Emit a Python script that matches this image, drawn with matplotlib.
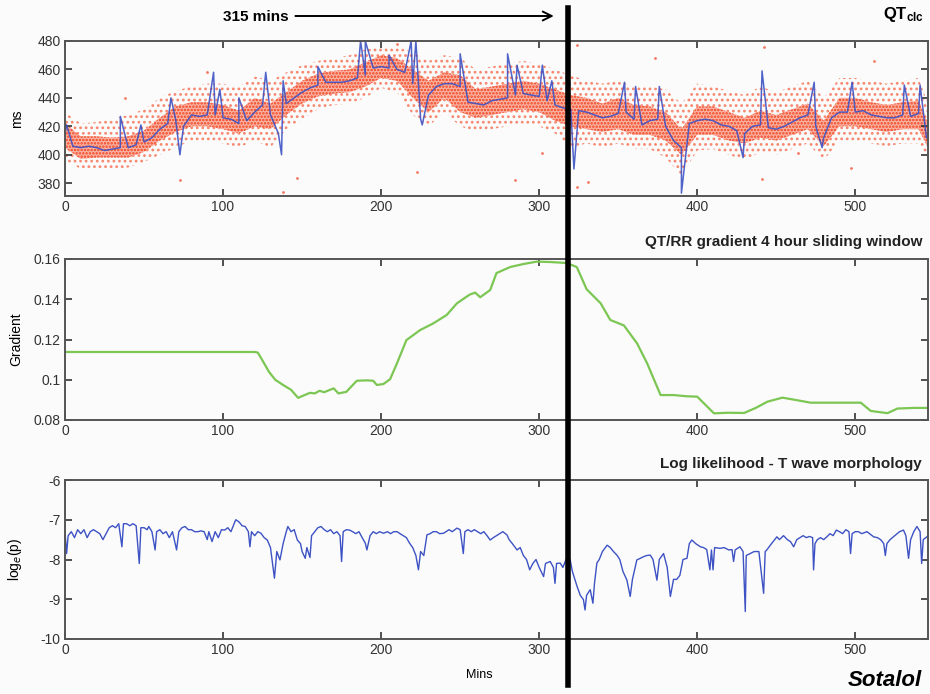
import numpy as np
import matplotlib
matplotlib.use("Agg")
import matplotlib.pyplot as plt
from matplotlib.lines import Line2D
from matplotlib.transforms import blended_transform_factory

plt.rcParams['font.family'] = ['Liberation Sans', 'DejaVu Sans']
plt.rcParams['mathtext.fontset'] = 'custom'
plt.rcParams['mathtext.rm'] = 'Liberation Sans'
plt.rcParams['mathtext.bf'] = 'Liberation Sans:bold'
plt.rcParams['axes.unicode_minus'] = False
plt.rcParams['hatch.linewidth'] = 1.2

# --- QTclc: blue trace (base every 5 min) ---
qt_t = list(range(0, 550, 5))
qt_mid = [415, 406, 405, 406, 405, 403, 404, 405, 405, 407, 409, 412, 418, 422, 425, 420,
          428, 427, 428, 428, 426, 425, 422, 424, 430, 435, 428, 415, 436, 440, 444, 447,
          449, 451, 451, 451, 452, 454, 456, 461, 462, 461, 460, 458, 450, 425, 442, 448,
          450, 450, 448, 437, 436, 435, 438, 439, 440, 442, 443, 442, 441, 438, 435, 433,
          432, 431, 430, 428, 426, 427, 429, 430, 425, 421, 424, 425, 420, 410, 405, 422,
          424, 425, 424, 421, 420, 417, 415, 420, 421, 419, 418, 420, 423, 426, 428, 420,
          412, 426, 430, 430, 430, 431, 428, 427, 426, 426, 428, 427, 429, 412]
# spikes of the blue trace
spike_t = [1, 35, 48, 67, 72.7, 94, 98, 110, 127, 137, 138, 160, 187, 190, 205, 219, 222,
           226, 250, 280, 286, 302, 308, 322, 354, 361, 376, 390, 429, 441, 474, 479, 498,
           531, 541]
spike_v = [421, 427, 421, 440, 400, 458, 446, 440, 458, 400, 452, 462, 480, 480, 470, 480, 480,
           421, 471, 471, 463, 463, 452, 390, 451, 448, 448, 373, 398, 459, 451, 405, 451,
           449, 449]

# --- QTclc: red beat-by-beat cloud (every 10 min) ---
red_t = list(range(0, 550, 10)) + [546]
in_lo = [405, 397, 398, 398, 398, 402, 410, 416, 420, 420, 418, 415, 420, 418, 428, 436, 441,
         443, 444, 448, 454, 452, 440, 430, 440, 430, 426, 428, 430, 432, 430, 424, 420, 418,
         416, 418, 414, 414, 410, 400, 414, 414, 410, 408, 412, 410, 414, 418, 406, 420, 420,
         418, 416, 418, 418, 405]
in_hi = [422, 413, 413, 412, 413, 417, 426, 434, 437, 437, 435, 431, 440, 436, 444, 452, 457,
         459, 460, 465, 470, 468, 460, 452, 458, 456, 446, 448, 450, 452, 450, 446, 442, 440,
         436, 440, 435, 434, 430, 418, 434, 434, 430, 426, 431, 428, 432, 436, 424, 440, 440,
         437, 435, 437, 438, 422]
out_lo = [396, 390, 390, 390, 391, 395, 400, 405, 410, 410, 408, 405, 410, 405, 418, 425, 432,
          435, 436, 440, 447, 444, 428, 420, 430, 420, 416, 418, 420, 422, 420, 415, 405, 408,
          405, 408, 404, 404, 398, 385, 403, 404, 400, 396, 402, 400, 404, 408, 396, 410, 410,
          408, 406, 408, 408, 398]
out_hi = [430, 422, 423, 425, 428, 432, 440, 445, 448, 450, 450, 448, 455, 452, 458, 463, 466,
          468, 470, 474, 476, 476, 472, 466, 470, 468, 460, 462, 464, 466, 464, 460, 456, 452,
          450, 452, 448, 448, 446, 436, 450, 448, 445, 442, 448, 444, 448, 452, 440, 454, 454,
          452, 450, 452, 454, 436]
out_t = [73, 138, 147, 223, 285, 302, 324, 331, 441, 464, 497, 442, 373, 512, 324, 210, 38, 90]
out_v = [382, 374, 384, 388, 382, 401, 377, 381, 383, 401, 391, 476, 468, 466, 477, 478, 440, 458]

# --- QT/RR gradient, 4 hour sliding window ---
grad_t = [0, 120, 122, 125, 129, 133, 138, 143, 147.5, 151, 155, 158, 161, 164, 167, 170, 173,
          178, 181, 184.6, 191, 195, 197.3, 201.5, 205.7, 210, 216, 224.7, 233, 241.5, 248, 256,
          259.5, 262.7, 269, 273, 281.6, 290, 298.5, 307, 317.5, 323.8, 330, 338.9, 345, 353.6,
          362, 368.4, 376.8, 385, 393, 400, 410.6, 419, 429.7, 437, 444.4, 453.9, 462, 471.8,
          490, 503.5, 509.8, 520.4, 526.7, 537, 547.8]
grad_v = [0.1138, 0.1138, 0.1135, 0.1095, 0.1040, 0.1000, 0.0974, 0.0950, 0.0910, 0.0922,
          0.0935, 0.0932, 0.0945, 0.0938, 0.0948, 0.0957, 0.0932, 0.0940, 0.0965, 0.0995,
          0.0997, 0.0995, 0.0974, 0.0979, 0.1003, 0.1081, 0.1197, 0.1247, 0.1280, 0.1322,
          0.1380, 0.1423, 0.1433, 0.1410, 0.1446, 0.1530, 0.1560, 0.1575, 0.1587, 0.1585,
          0.1580, 0.1560, 0.1450, 0.1380, 0.1297, 0.1270, 0.1180, 0.1080, 0.0924, 0.0924,
          0.0918, 0.0916, 0.0833, 0.0836, 0.0835, 0.0860, 0.0891, 0.0911, 0.0900, 0.0886,
          0.0886, 0.0886, 0.0845, 0.0834, 0.0857, 0.0860, 0.0860]

# --- Log likelihood, T wave morphology ---
ll_t = [0, 1, 2, 4, 6, 8, 10, 12, 14, 16, 18, 20, 22, 24, 26, 28, 30, 32, 34, 36, 37, 39, 41, 43,
        45, 47, 48, 50, 52, 53, 55, 57, 58, 60, 62, 64, 66, 68, 70.6, 72, 74, 76, 78, 80, 82, 84,
        86, 88, 90, 91, 93, 95, 97, 99, 101, 103, 105, 107, 108, 110, 112, 114, 116, 117, 118,
        120, 122, 124, 126, 128, 130, 132.5, 134, 136, 138, 140, 141, 143, 145, 147, 149, 150,
        152, 153, 155, 156, 158, 160, 162, 164, 166, 168, 170, 172, 174, 175, 176, 178, 180,
        182, 184, 186, 188, 190, 191, 193, 195, 197, 199, 201.5, 204, 206, 208, 210, 212, 214,
        216, 218, 220, 222, 223.6, 225, 227, 229, 231, 233, 235, 237, 239.5, 241, 243, 245,
        248, 250, 252, 253, 255, 257, 259, 261, 263, 265, 267, 269, 271, 273, 275, 277, 279.6,
        281, 283, 286, 288, 290, 292, 294, 296, 298, 300, 302.8, 304, 307, 309, 310, 311,
        313.3, 315, 317, 319.6, 321, 324, 326, 328, 329, 330, 332.3, 334, 335, 336.5, 338, 340,
        343, 345, 347, 349.2, 351, 353, 355.5, 357.6, 359, 361.8, 364, 366, 368, 370.3, 372,
        374.5, 376, 378.7, 381, 383, 385, 387, 389, 391, 393.5, 395, 396.6, 399, 402, 404, 406,
        408, 409, 410, 411, 414.5, 417, 420, 422, 423, 424, 427, 429, 430.4, 431, 433.5, 436,
        439, 442, 443, 444, 447, 450.4, 452, 454.6, 457, 459, 461, 463, 465, 467, 469, 471,
        473, 473.6, 474.5, 476, 478, 480, 482, 484, 486, 488, 490, 492, 494, 496, 497, 498,
        500, 502, 504, 507.4, 509, 511.6, 514, 516, 518, 519, 520, 522, 525, 528, 530.5, 532,
        533.7, 535, 537, 539, 541, 542, 543, 545.3, 546]
ll_v = [-7.3, -7.85, -7.4, -7.3, -7.45, -7.25, -7.35, -7.25, -7.45, -7.3, -7.25, -7.3, -7.35,
        -7.5, -7.35, -7.2, -7.15, -7.2, -7.1, -7.68, -7.1, -7.1, -7.15, -7.1, -7.15, -8.1, -7.2,
        -7.2, -7.25, -7.17, -7.3, -7.76, -7.3, -7.25, -7.35, -7.3, -7.45, -7.3, -7.76, -7.3,
        -7.2, -7.17, -7.25, -7.25, -7.3, -7.3, -7.28, -7.3, -7.5, -7.3, -7.55, -7.3, -7.45,
        -7.25, -7.26, -7.2, -7.3, -7.1, -7.0, -7.05, -7.15, -7.17, -7.3, -7.68, -7.3, -7.4,
        -7.3, -7.34, -7.45, -7.51, -7.7, -8.47, -7.8, -8.01, -7.6, -7.3, -7.17, -7.3, -7.25,
        -7.51, -7.6, -7.8, -7.97, -7.7, -7.95, -7.4, -7.3, -7.2, -7.17, -7.25, -7.3, -7.25,
        -7.35, -7.3, -7.4, -8.05, -7.3, -7.25, -7.26, -7.3, -7.35, -7.3, -7.45, -7.59, -7.76,
        -7.4, -7.3, -7.35, -7.3, -7.34, -7.3, -7.35, -7.3, -7.3, -7.35, -7.4, -7.45, -7.59,
        -7.7, -7.9, -8.26, -7.8, -7.9, -7.38, -7.35, -7.3, -7.3, -7.35, -7.34, -7.3, -7.25,
        -7.3, -7.21, -7.25, -7.85, -7.3, -7.25, -7.3, -7.25, -7.3, -7.35, -7.3, -7.4, -7.51,
        -7.45, -7.4, -7.35, -7.3, -7.38, -7.5, -7.6, -7.76, -7.7, -7.9, -8.0, -8.26, -8.1,
        -8.0, -8.2, -8.43, -8.1, -8.05, -8.2, -8.6, -8.1, -8.09, -8.2, -8.0, -8.01, -8.3,
        -8.68, -8.9, -9.01, -9.27, -8.9, -8.76, -9.1, -8.6, -8.09, -8.0, -7.8, -7.64, -7.7,
        -7.8, -7.89, -8.0, -8.3, -8.52, -8.93, -8.5, -8.01, -7.97, -7.93, -7.9, -7.89, -8.0,
        -8.52, -8.0, -7.85, -8.2, -8.93, -8.5, -8.5, -8.4, -8.0, -7.97, -7.6, -7.51, -7.6,
        -7.68, -7.7, -7.75, -8.26, -7.76, -8.26, -7.7, -7.72, -7.7, -7.76, -7.75, -8.05, -7.76,
        -7.68, -7.8, -9.31, -7.9, -7.85, -7.8, -7.8, -8.85, -7.8, -7.76, -7.6, -7.43, -7.5,
        -7.4, -7.5, -7.55, -7.68, -7.5, -7.45, -7.4, -7.45, -7.42, -7.45, -8.26, -7.6, -7.5,
        -7.45, -7.5, -7.43, -7.35, -7.4, -7.26, -7.3, -7.35, -7.25, -7.3, -7.85, -7.35, -7.3,
        -7.3, -7.35, -7.3, -7.35, -7.43, -7.45, -7.5, -7.6, -7.9, -7.6, -7.5, -7.4, -7.3,
        -7.26, -7.4, -7.97, -7.5, -7.3, -7.17, -7.3, -8.1, -7.5, -7.43, -7.4]

marker_t = 318

bg = '#fbfbfb'
red = '#f2401c'
blue = '#3d52c4'
green = '#7cc653'

fig = plt.figure(figsize=(9.3, 6.94), dpi=100, facecolor=bg)
x0, w = 65 / 930, 863 / 930
ax1 = fig.add_axes([x0, 1 - 196 / 694, w, 155 / 694])
ax2 = fig.add_axes([x0, 1 - 420 / 694, w, 161 / 694])
ax3 = fig.add_axes([x0, 1 - 639 / 694, w, 159 / 694])

# top panel: speckled red cloud, denser core, blue trend on top
ax1.fill_between(red_t, out_lo, out_hi, facecolor='none', edgecolor='#f7866d',
                 hatch='...', lw=0)
ax1.fill_between(red_t, in_lo, in_hi, facecolor='#f9b3a3', edgecolor=red,
                 hatch='.....', lw=0)
ax1.scatter(out_t, out_v, s=4, color=red, alpha=0.7, lw=0)
bt = np.concatenate([qt_t, spike_t])
bv = np.concatenate([qt_mid, spike_v])
order = np.argsort(bt, kind='stable')
ax1.plot(bt[order], bv[order], color=blue, lw=1.1, alpha=0.9)
ax1.set_ylim(371, 480)
ax1.set_yticks([380, 400, 420, 440, 460, 480])
ax1.set_ylabel('ms', fontsize=10)

# middle panel
ax2.plot(grad_t, grad_v, color=green, lw=1.6)
ax2.set_ylim(0.08, 0.16)
ax2.set_yticks([0.08, 0.1, 0.12, 0.14, 0.16])
ax2.set_yticklabels(['0.08', '0.1', '0.12', '0.14', '0.16'])
ax2.set_ylabel('Gradient', fontsize=10)

# bottom panel
ax3.plot(ll_t, ll_v, color=blue, lw=1.0)
ax3.set_ylim(-10, -6)
ax3.set_yticks([-10, -9, -8, -7, -6])
ax3.set_ylabel('log$_e$(p)', fontsize=10)

for ax in (ax1, ax2, ax3):
    ax.set_facecolor(bg)
    ax.set_xlim(0, 546)
    ax.set_xticks([0, 100, 200, 300, 400, 500])
    ax.tick_params(direction='in', top=True, right=True, length=5, width=1.2,
                   labelsize=10, colors='#333333', pad=3)
    for s in ax.spines.values():
        s.set_linewidth(1.4)
        s.set_color('#555555')
    ax.yaxis.set_label_coords(-0.048, 0.5)

ax3.set_xlabel('Mins', fontsize=9)
ax3.xaxis.set_label_coords(0.48, -0.19)

# thick marker line through all panels
tr = blended_transform_factory(ax1.transData, fig.transFigure)
fig.add_artist(Line2D([marker_t, marker_t], [1 - 8 / 694, 1 - 685 / 694],
                      transform=tr, color='black', lw=4.0))

# arrow + label
ax1.annotate('', xy=(311, 1 - 16 / 694), xytext=(144, 1 - 16 / 694),
             xycoords=tr, textcoords=tr,
             arrowprops=dict(arrowstyle='->', color='black', lw=1.4, mutation_scale=16))
fig.text(289 / 930, 1 - 17 / 694, '315 mins', ha='right', va='center',
         fontsize=11, fontweight='bold')

fig.text(924 / 930, 1 - 15 / 694, r'$\mathbf{QT_{clc}}$', ha='right', va='center',
         fontsize=12)
fig.text(922 / 930, 1 - 242 / 694, 'QT/RR gradient 4 hour sliding window', ha='right',
         va='center', fontsize=11, fontweight='bold', color='#222222')
fig.text(922 / 930, 1 - 464 / 694, 'Log likelihood - T wave morphology', ha='right',
         va='center', fontsize=11, fontweight='bold', color='#222222')
fig.text(922 / 930, 1 - 681 / 694, 'Sotalol', ha='right', va='center', fontsize=16,
         fontweight='bold', fontstyle='italic')

fig.savefig('out.png', dpi=100, facecolor=bg)
